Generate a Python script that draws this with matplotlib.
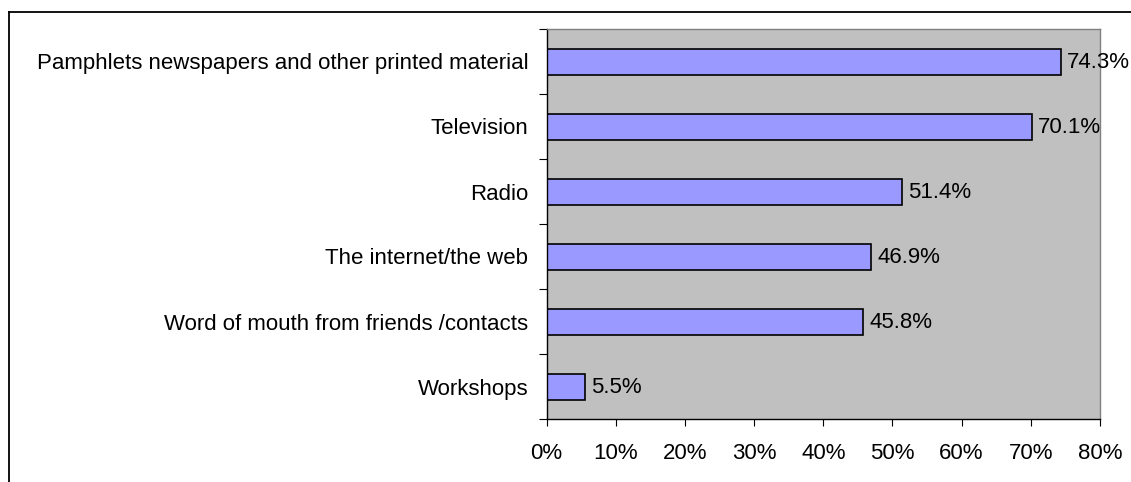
import matplotlib.pyplot as plt
from matplotlib.lines import Line2D
import numpy as np

plt.rcParams['font.family'] = ['Liberation Sans', 'DejaVu Sans']

# Survey data (top to bottom as displayed)
categories = ['Pamphlets newspapers and other printed material', 'Television', 'Radio',
              'The internet/the web', 'Word of mouth from friends /contacts', 'Workshops']
values = [74.3, 70.1, 51.4, 46.9, 45.8, 5.5]
xticks = [0, 10, 20, 30, 40, 50, 60, 70, 80]

W, H = 1131, 482
fs = 16
fig = plt.figure(figsize=(W / 100, H / 100), dpi=100)
ax = fig.add_axes([546.5 / W, 1 - 419 / H, (1100 - 546.5) / W, (419 - 29) / H])
ax.set_facecolor('#c0c0c0')

y = np.arange(len(categories))
ax.barh(y, values, height=0.4, color='#9999ff', edgecolor='black', linewidth=1.2)
for yi, v in zip(y, values):
    ax.text(v + 0.9, yi + 0.02, f'{v:.1f}%', va='center', ha='left', fontsize=fs)

ax.set_ylim(len(categories) - 0.5, -0.5)
ax.set_xlim(0, 80)
ax.set_xticks(xticks)
ax.set_xticklabels([f'{t}%' for t in xticks], fontsize=fs)
ax.set_yticks(np.arange(-0.5, len(categories), 1.0))
ax.set_yticklabels([])
ax.set_yticks(y, minor=True)
ax.set_yticklabels(categories, minor=True, fontsize=fs)
ax.tick_params(axis='y', which='minor', length=0, pad=13)
ax.tick_params(axis='y', which='major', length=6, direction='out')
ax.tick_params(axis='x', length=5, direction='out', pad=12)

for s in ['left', 'bottom']:
    ax.spines[s].set_color('black')
    ax.spines[s].set_linewidth(1.0)
for s in ['top', 'right']:
    ax.spines[s].set_color('#808080')
    ax.spines[s].set_linewidth(1.0)

# outer chart frame (left and top edges visible)
fx, fy = 8.5 / W, 1 - 12 / H
fig.add_artist(Line2D([fx, fx], [-0.1, fy], transform=fig.transFigure, color='black', lw=1.3))
fig.add_artist(Line2D([fx, 1.1], [fy, fy], transform=fig.transFigure, color='black', lw=1.3))

fig.savefig('out.png', dpi=100)
plt.close(fig)
